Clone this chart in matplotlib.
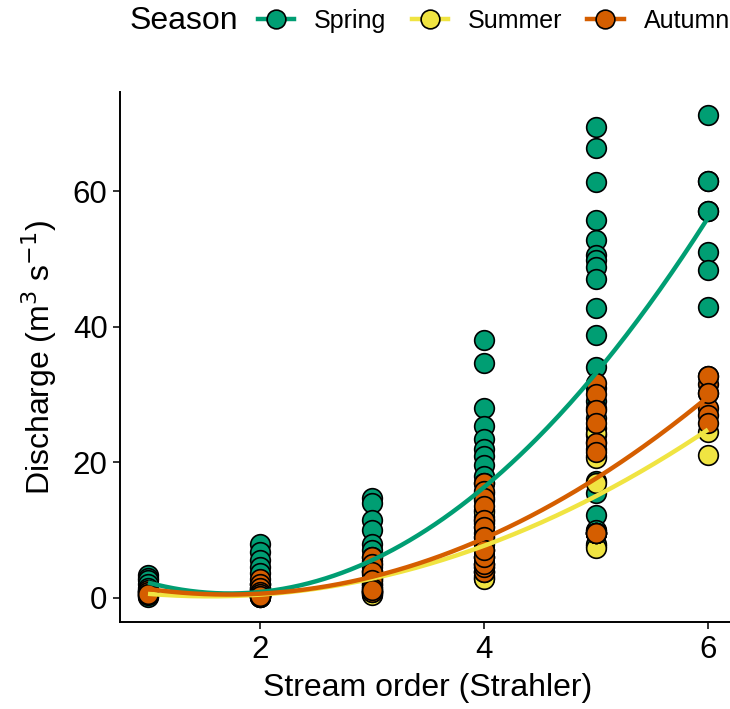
import numpy as np
import matplotlib
matplotlib.use("Agg")
import matplotlib.pyplot as plt
from matplotlib.lines import Line2D

plt.rcParams['font.family'] = ['Liberation Sans', 'DejaVu Sans']

# Discharge (m3 s-1) per stream order
# (low values at each order overlap heavily, so several points sit under others)
spring_order = [1] * 11 + [2] * 19 + [3] * 22 + [4] * 22 + [5] * 28 + [6] * 8
spring_q = [3.4, 3.0, 2.6, 2.0, 1.5, 1.0, 0.6, 0.4, 0.3, 0.8, 0.2,
            8.0, 6.8, 5.6, 4.5, 3.7, 2.0, 1.5, 1.0, 0.7, 0.5, 0.3, 0.2, 1.2, 0.8, 0.4, 0.3, 0.5, 0.6, 0.2,
            14.8, 14.0, 11.5, 10.0, 8.0, 7.0, 6.0, 5.0, 5.5, 4.5, 3.5, 2.5, 1.8, 1.2, 0.8, 0.6, 3.0, 2.0,
            1.0, 1.5, 0.7, 4.0,
            38.0, 34.6, 28.0, 25.3, 23.5, 22.0, 21.0, 19.6, 18.0, 17.0, 15.5, 14.5, 13.0, 11.5, 10.5, 9.0,
            7.0, 5.0, 4.0, 3.0, 6.0, 12.0,
            69.4, 66.3, 61.3, 55.7, 52.8, 50.6, 49.8, 48.8, 47.0, 42.8, 38.8, 34.1, 15.5, 12.2,
            31.0, 29.0, 28.0, 26.5, 25.0, 24.0, 23.0, 22.0, 21.0, 17.2, 9.8, 7.6, 10.0, 8.0,
            71.2, 61.5, 61.5, 57.0, 57.0, 51.0, 48.4, 42.9]

summer_order = [1] * 3 + [2] * 4 + [3] * 5 + [4] * 8 + [5] * 4 + [6] * 2
summer_q = [1.0, 0.7, 0.4,
            2.0, 1.2, 0.6, 0.2,
            4.0, 3.0, 2.0, 1.0, 0.5,
            12.7, 11.0, 9.5, 8.0, 6.0, 4.5, 3.2, 2.8,
            24.3, 20.6, 17.0, 7.4,
            24.5, 21.1]

autumn_order = [1] * 3 + [2] * 10 + [3] * 8 + [4] * 15 + [5] * 13 + [6] * 8
autumn_q = [1.2, 0.9, 0.6,
            2.8, 2.0, 1.4, 0.8, 0.4, 0.3, 0.4, 0.5, 0.6, 0.3,
            6.0, 5.0, 3.8, 2.6, 1.5, 0.8, 0.8, 1.2,
            17.0, 15.8, 14.8, 13.5, 11.5, 10.5, 9.0, 7.0, 5.0, 3.8, 3.8, 4.5, 5.0, 6.0, 7.0,
            31.7, 30.0, 27.7, 25.8, 22.8, 21.5, 9.6, 9.6, 9.6, 9.6, 9.6, 9.6, 9.6,
            32.7, 31.5, 30.2, 28.0, 27.0, 25.8, 32.7, 30.2]

seasons = ['Spring', 'Summer', 'Autumn']
colors = ['#009E73', '#F0E442', '#D55E00']
data = [(spring_order, spring_q), (summer_order, summer_q), (autumn_order, autumn_q)]

fig = plt.figure(figsize=(7.3, 7.09), dpi=100)
ax = fig.add_axes([120 / 730, 87 / 709, 616 / 730, 530 / 709])

# points
for (xs, ys), c in zip(data, colors):
    ax.scatter(xs, ys, s=200, color=c, edgecolor='black', linewidth=1.2, zorder=2)

# quadratic trend lines
xx = np.linspace(1, 6, 200)
for (xs, ys), c in zip(data, colors):
    coef = np.polyfit(xs, ys, 2)
    ax.plot(xx, np.polyval(coef, xx), color=c, linewidth=3.2, zorder=3, solid_capstyle='butt')

ax.set_xlim(0.75, 6.25)
ax.set_ylim(-3.55, 74.6)
ax.set_xticks([2, 4, 6])
ax.set_yticks([0, 20, 40, 60])
for s in ['top', 'right']:
    ax.spines[s].set_visible(False)
for s in ['left', 'bottom']:
    ax.spines[s].set_linewidth(1.4)
ax.tick_params(axis='both', length=5, width=1.4, color='#333333', labelsize=22.5, pad=4)
ax.set_xlabel('Stream order (Strahler)', fontsize=23, labelpad=6)
ax.set_ylabel('Discharge (m$^3$ s$^{-1}$)', fontsize=23, labelpad=10)

# legend along the top
fig.text(130 / 730, 1 - 21 / 709, 'Season', fontsize=23, va='center', ha='left')
handles = [Line2D([0], [0], color=c, lw=3.2, marker='o', markersize=13.5,
                  markerfacecolor=c, markeredgecolor='black', markeredgewidth=1.2)
           for c in colors]
fig.legend(handles, seasons, ncol=3, loc='center left', bbox_to_anchor=(258 / 730, 1 - 21 / 709),
           frameon=False, fontsize=18, handlelength=1.45, handletextpad=0.8,
           columnspacing=1.0, borderaxespad=0, borderpad=0)

plt.savefig('out.png', dpi=100)
